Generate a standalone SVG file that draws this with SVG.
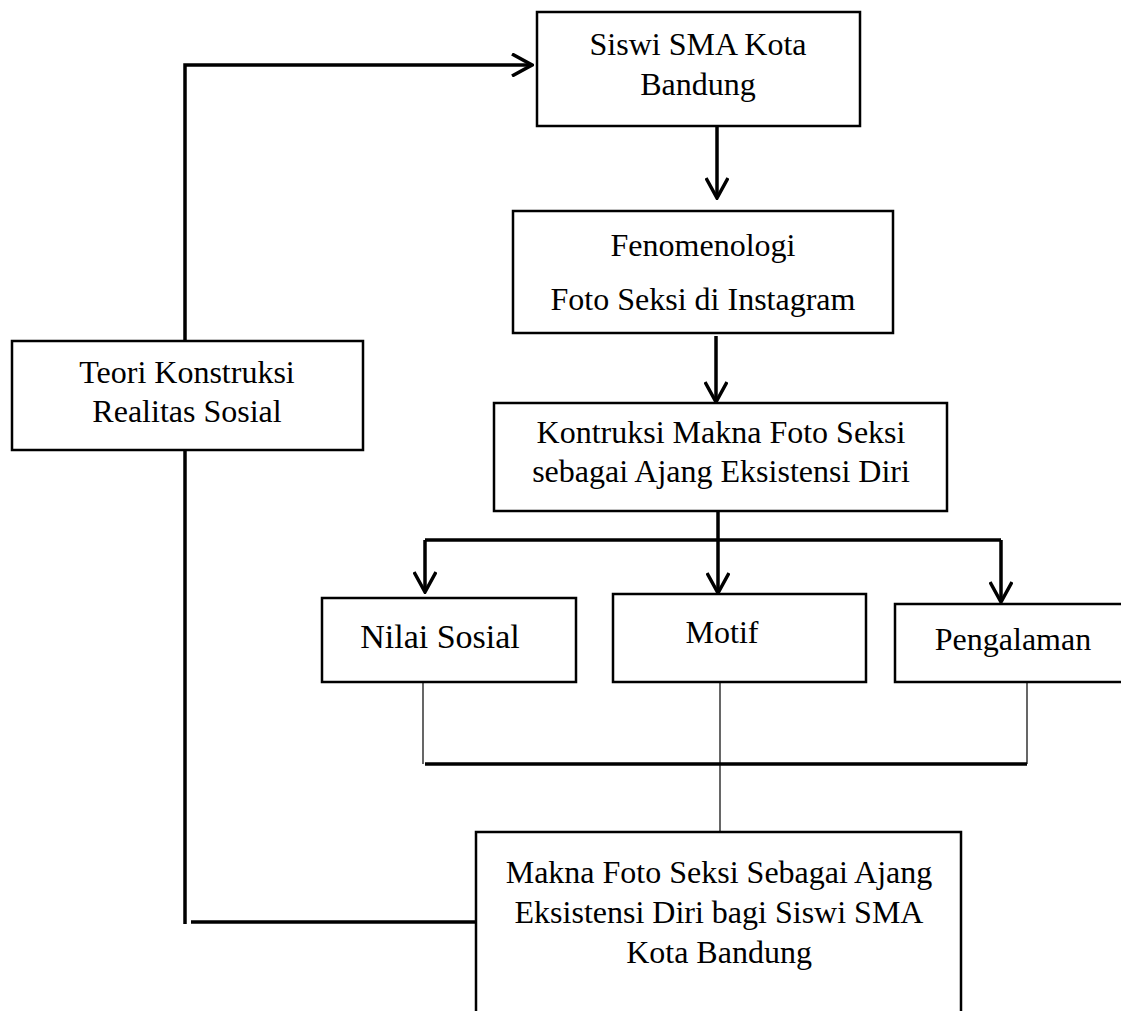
<svg xmlns="http://www.w3.org/2000/svg" width="1121" height="1011" viewBox="0 0 1121 1011">
<style>
.box{fill:#fff;stroke:#000;stroke-width:2.5}
.t{font-family:"Liberation Serif","Times New Roman",serif;font-size:32px;fill:#000;text-anchor:middle}
.c{fill:none;stroke:#000;stroke-width:3.5}
.thin{fill:none;stroke:#000;stroke-width:1.2}
</style>
<defs>
<marker id="arr" viewBox="0 0 24 24" refX="22" refY="12" markerWidth="24" markerHeight="24" markerUnits="userSpaceOnUse" orient="auto">
<path d="M2,1 L22,12 L2,23" fill="none" stroke="#000" stroke-width="3.5"/>
</marker>
</defs>
<rect width="1121" height="1011" fill="#fff"/>
<g id="connectors">
<path class="c" d="M185,341 V65 H532" marker-end="url(#arr)"/>
<path class="c" d="M717,126 V198" marker-end="url(#arr)"/>
<path class="c" d="M716,336 V402" marker-end="url(#arr)"/>
<path class="c" d="M718,511 V540"/>
<path class="c" d="M425,540 H1001"/>
<path class="c" d="M425,540 V592" marker-end="url(#arr)"/>
<path class="c" d="M718,540 V593" marker-end="url(#arr)"/>
<path class="c" d="M1001,540 V602" marker-end="url(#arr)"/>
<path class="thin" d="M423,682 V764"/>
<path class="thin" d="M1027,682 V764"/>
<path class="thin" d="M720,682 V832"/>
<path class="c" d="M425,764 H1027" stroke-width="4"/>
<path class="c" d="M185,450 V924"/>
<path class="c" d="M191,922 H476"/>
</g>
<g id="siswi">
<rect class="box" x="537" y="12" width="323" height="114"/>
<text class="t" x="698" y="55">Siswi SMA Kota</text>
<text class="t" x="698" y="95">Bandung</text>
</g>
<g id="fenomenologi">
<rect class="box" x="513" y="211" width="380" height="122"/>
<text class="t" x="703" y="256">Fenomenologi</text>
<text class="t" x="703" y="310">Foto Seksi di Instagram</text>
</g>
<g id="teori">
<rect class="box" x="12" y="341" width="351" height="109"/>
<text class="t" x="187" y="383">Teori Konstruksi</text>
<text class="t" x="187" y="422">Realitas Sosial</text>
</g>
<g id="kontruksi">
<rect class="box" x="494" y="403" width="453" height="108"/>
<text class="t" x="721" y="443">Kontruksi Makna Foto Seksi</text>
<text class="t" x="721" y="482">sebagai Ajang Eksistensi Diri</text>
</g>
<g id="nilai">
<rect class="box" x="322" y="598" width="254" height="84"/>
<text class="t" x="440" y="648" style="font-size:34px">Nilai Sosial</text>
</g>
<g id="motif">
<rect class="box" x="613" y="594" width="253" height="88"/>
<text class="t" x="722" y="643">Motif</text>
</g>
<g id="pengalaman">
<rect class="box" x="895" y="604" width="240" height="78"/>
<text class="t" x="1013" y="650">Pengalaman</text>
</g>
<g id="makna">
<path class="box" d="M476,1015 V832 H961 V1015"/>
<text class="t" x="719" y="883">Makna Foto Seksi Sebagai Ajang</text>
<text class="t" x="719" y="923">Eksistensi Diri bagi Siswi SMA</text>
<text class="t" x="719" y="963">Kota Bandung</text>
</g>
</svg>
